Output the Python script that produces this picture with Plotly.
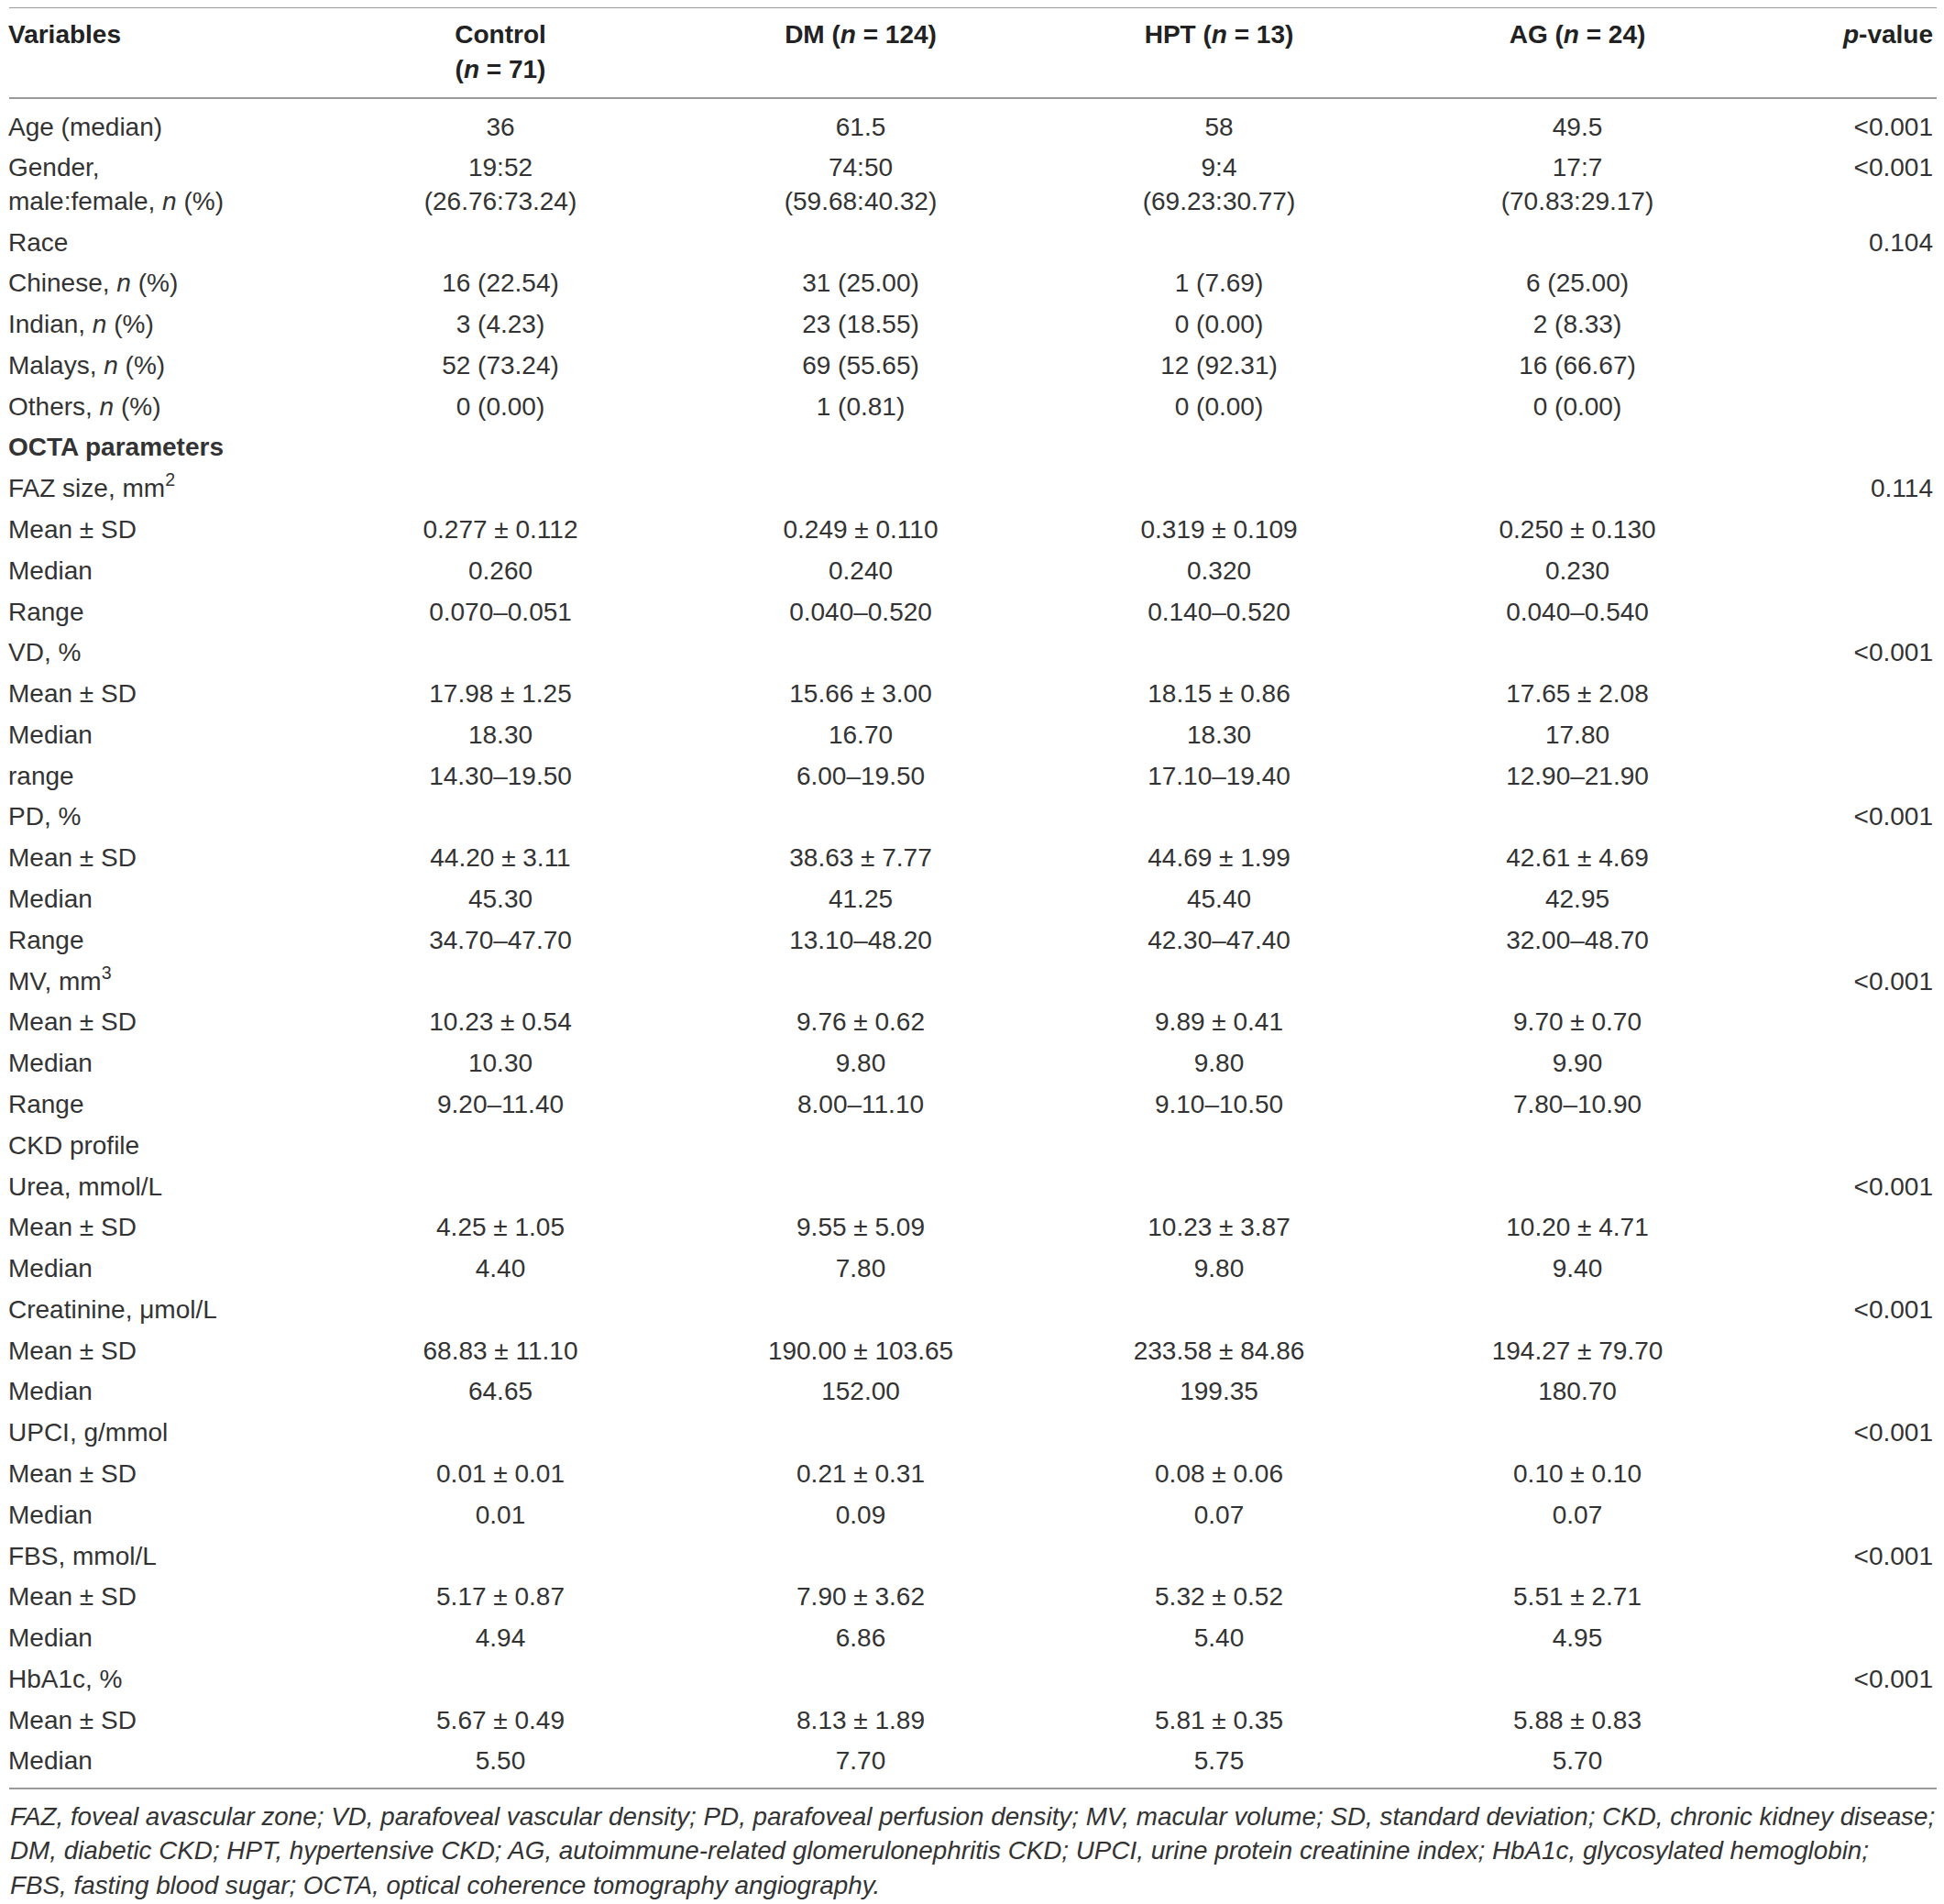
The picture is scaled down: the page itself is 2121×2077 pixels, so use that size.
import plotly.graph_objects as go

# ---------------- data ----------------
header_labels = ["<b>Variables</b>", "<b>Control</b><br><b>(<i>n</i> = 71)</b>",
                 "<b>DM (<i>n</i> = 124)</b>", "<b>HPT (<i>n</i> = 13)</b>",
                 "<b>AG (<i>n</i> = 24)</b>", "<b><i>p</i>-value</b>"]

variables = [
    "Age (median)", "Gender,<br>male:female, <i>n</i> (%)", "Race",
    "Chinese, <i>n</i> (%)", "Indian, <i>n</i> (%)", "Malays, <i>n</i> (%)", "Others, <i>n</i> (%)",
    "<b>OCTA parameters</b>",
    "FAZ size, mm<sup>2</sup>", "Mean ± SD", "Median", "Range",
    "VD, %", "Mean ± SD", "Median", "range",
    "PD, %", "Mean ± SD", "Median", "Range",
    "MV, mm<sup>3</sup>", "Mean ± SD", "Median", "Range",
    "CKD profile",
    "Urea, mmol/L", "Mean ± SD", "Median",
    "Creatinine, μmol/L", "Mean ± SD", "Median",
    "UPCI, g/mmol", "Mean ± SD", "Median",
    "FBS, mmol/L", "Mean ± SD", "Median",
    "HbA1c, %", "Mean ± SD", "Median",
]
control = [
    "36", "19:52<br>(26.76:73.24)", "",
    "16 (22.54)", "3 (4.23)", "52 (73.24)", "0 (0.00)",
    "",
    "", "0.277 ± 0.112", "0.260", "0.070–0.051",
    "", "17.98 ± 1.25", "18.30", "14.30–19.50",
    "", "44.20 ± 3.11", "45.30", "34.70–47.70",
    "", "10.23 ± 0.54", "10.30", "9.20–11.40",
    "",
    "", "4.25 ± 1.05", "4.40",
    "", "68.83 ± 11.10", "64.65",
    "", "0.01 ± 0.01", "0.01",
    "", "5.17 ± 0.87", "4.94",
    "", "5.67 ± 0.49", "5.50",
]
dm = [
    "61.5", "74:50<br>(59.68:40.32)", "",
    "31 (25.00)", "23 (18.55)", "69 (55.65)", "1 (0.81)",
    "",
    "", "0.249 ± 0.110", "0.240", "0.040–0.520",
    "", "15.66 ± 3.00", "16.70", "6.00–19.50",
    "", "38.63 ± 7.77", "41.25", "13.10–48.20",
    "", "9.76 ± 0.62", "9.80", "8.00–11.10",
    "",
    "", "9.55 ± 5.09", "7.80",
    "", "190.00 ± 103.65", "152.00",
    "", "0.21 ± 0.31", "0.09",
    "", "7.90 ± 3.62", "6.86",
    "", "8.13 ± 1.89", "7.70",
]
hpt = [
    "58", "9:4<br>(69.23:30.77)", "",
    "1 (7.69)", "0 (0.00)", "12 (92.31)", "0 (0.00)",
    "",
    "", "0.319 ± 0.109", "0.320", "0.140–0.520",
    "", "18.15 ± 0.86", "18.30", "17.10–19.40",
    "", "44.69 ± 1.99", "45.40", "42.30–47.40",
    "", "9.89 ± 0.41", "9.80", "9.10–10.50",
    "",
    "", "10.23 ± 3.87", "9.80",
    "", "233.58 ± 84.86", "199.35",
    "", "0.08 ± 0.06", "0.07",
    "", "5.32 ± 0.52", "5.40",
    "", "5.81 ± 0.35", "5.75",
]
ag = [
    "49.5", "17:7<br>(70.83:29.17)", "",
    "6 (25.00)", "2 (8.33)", "16 (66.67)", "0 (0.00)",
    "",
    "", "0.250 ± 0.130", "0.230", "0.040–0.540",
    "", "17.65 ± 2.08", "17.80", "12.90–21.90",
    "", "42.61 ± 4.69", "42.95", "32.00–48.70",
    "", "9.70 ± 0.70", "9.90", "7.80–10.90",
    "",
    "", "10.20 ± 4.71", "9.40",
    "", "194.27 ± 79.70", "180.70",
    "", "0.10 ± 0.10", "0.07",
    "", "5.51 ± 2.71", "4.95",
    "", "5.88 ± 0.83", "5.70",
]
p_values = [
    "&lt;0.001", "&lt;0.001", "0.104",
    "", "", "", "",
    "",
    "0.114", "", "", "",
    "&lt;0.001", "", "", "",
    "&lt;0.001", "", "", "",
    "&lt;0.001", "", "", "",
    "",
    "&lt;0.001", "", "",
    "&lt;0.001", "", "",
    "&lt;0.001", "", "",
    "&lt;0.001", "", "",
    "&lt;0.001", "", "",
]
footnote_lines = [
    "FAZ, foveal avascular zone; VD, parafoveal vascular density; PD, parafoveal perfusion density; MV, macular volume; SD, standard deviation; CKD, chronic kidney disease;",
    "DM, diabetic CKD; HPT, hypertensive CKD; AG, autoimmune-related glomerulonephritis CKD; UPCI, urine protein creatinine index; HbA1c, glycosylated hemoglobin;",
    "FBS, fasting blood sugar; OCTA, optical coherence tomography angiography.",
]

# ---------------- layout constants ----------------
PAGE_W, PAGE_H = 2121, 2077
BODY_MARGIN = 8                      # default page margin around the plot div
W, H = PAGE_W - BODY_MARGIN, PAGE_H - BODY_MARGIN
FONT = "Liberation Sans, Arial, sans-serif"
FS = 28
TXT = "#333333"
LINE_COLOR = "#9a9a9a"
COL_X = [9, 546, 939, 1330, 1721, 2109]          # anchor per column (page px)
COL_POS = ["middle right", "middle center", "middle center", "middle center",
           "middle center", "middle left"]
HEAD_Y = 39.5
HEAD_LINE = 38
ROW_Y0 = 140.5
ROW_STEP = 44.78
CELL_LINE = 36.5
RULES_Y = [8, 107, 1951]
FOOT_Y0 = 1981
FOOT_STEP = 37.8

columns = [variables, control, dm, hpt, ag, p_values]

# compute y of each row (multi-line cells take extra space)
row_y = []
y = ROW_Y0
for i in range(len(variables)):
    row_y.append(y)
    nlines = max(len(c[i].split("<br>")) for c in columns)
    y += (nlines - 1) * CELL_LINE + ROW_STEP

fig = go.Figure()

# header
for c, lab in enumerate(header_labels):
    xs, ys, ts = [], [], []
    for k, part in enumerate(lab.split("<br>")):
        xs.append(COL_X[c]); ys.append(HEAD_Y + k * HEAD_LINE); ts.append(part)
    fig.add_trace(go.Scatter(x=xs, y=ys, text=ts, mode="text", textposition=COL_POS[c],
                             textfont=dict(family=FONT, size=FS, color="#222222"),
                             cliponaxis=False, hoverinfo="skip", showlegend=False))

# body
for c, col in enumerate(columns):
    xs, ys, ts = [], [], []
    for i, cell in enumerate(col):
        if not cell:
            continue
        for k, part in enumerate(cell.split("<br>")):
            xs.append(COL_X[c]); ys.append(row_y[i] + k * CELL_LINE); ts.append(part)
    fig.add_trace(go.Scatter(x=xs, y=ys, text=ts, mode="text", textposition=COL_POS[c],
                             textfont=dict(family=FONT, size=FS, color=TXT),
                             cliponaxis=False, hoverinfo="skip", showlegend=False))

# rules
for ry in RULES_Y:
    fig.add_shape(type="line", x0=10, x1=2113, y0=ry, y1=ry, xref="x", yref="y",
                  line=dict(color=LINE_COLOR, width=2))

# footnote
for k, line in enumerate(footnote_lines):
    fig.add_annotation(x=9, y=FOOT_Y0 + k * FOOT_STEP, xref="x", yref="y",
                       text="<i>" + line + "</i>", showarrow=False,
                       xanchor="left", yanchor="middle",
                       font=dict(family=FONT, size=27.8, color=TXT))

fig.update_layout(
    width=W, height=H, margin=dict(l=0, r=0, t=0, b=0),
    paper_bgcolor="white", plot_bgcolor="white",
    xaxis=dict(range=[BODY_MARGIN, PAGE_W], visible=False, fixedrange=True),
    yaxis=dict(range=[PAGE_H, BODY_MARGIN], visible=False, fixedrange=True),
)

fig.write_html("out.html")
